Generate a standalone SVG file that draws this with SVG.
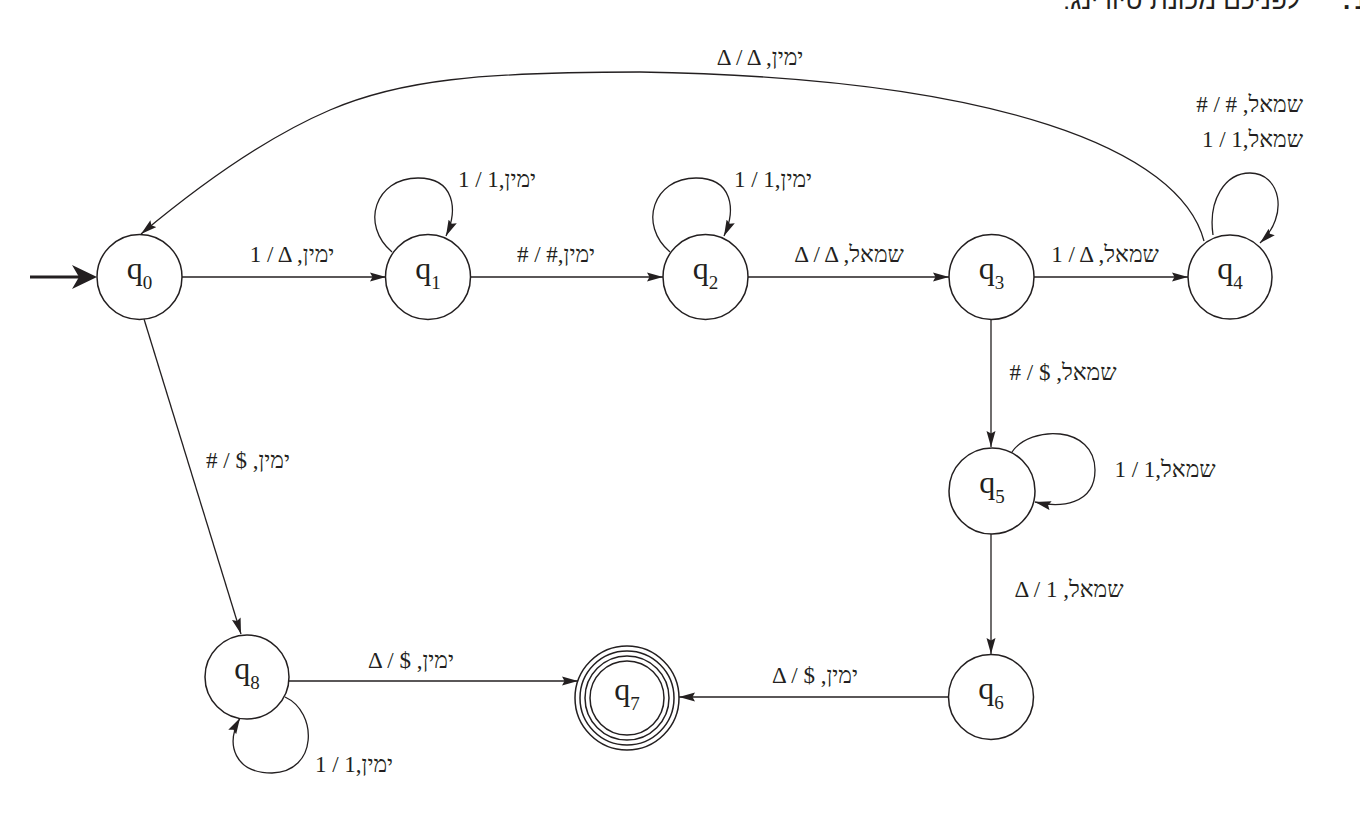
<svg xmlns="http://www.w3.org/2000/svg" width="1360" height="827" viewBox="0 0 1360 827">
<style>
.node{fill:#fff;stroke:#231f20;stroke-width:1.5}
.edge{fill:none;stroke:#231f20;stroke-width:1.3}
.lbl{font-family:"Liberation Serif","DejaVu Serif",serif;font-size:23px;fill:#231f20}
.nl{font-family:"Liberation Serif","DejaVu Serif",serif;font-size:32px;fill:#231f20}
.sub{font-size:19px}
.title{font-family:"Liberation Sans","DejaVu Sans",sans-serif;font-size:26px;fill:#231f20}
</style>
<defs>
<marker id="ah" markerUnits="userSpaceOnUse" markerWidth="18" markerHeight="12" refX="16" refY="5" orient="auto">
<path d="M0,0.5 L16,5 L0,9.5 L2.5,5 Z" fill="#231f20"/>
</marker>
</defs>
<rect width="1360" height="827" fill="#fff"/>
<g id="title">
<text class="title" x="1300" y="9" direction="rtl" unicode-bidi="embed" text-anchor="start">לפניכם מכונת טיורינג:</text>
<text class="title" x="1343" y="9" font-weight="bold">.</text>
<text class="title" x="1354" y="9" font-weight="bold">1</text>
</g>
<g id="connectors">
<line x1="30" y1="277" x2="80" y2="277" stroke="#231f20" stroke-width="3.2"/>
<path d="M97,277 L72,265 L79,277 L72,289 Z" fill="#231f20"/>
<line class="edge" x1="182" y1="277" x2="386" y2="277" marker-end="url(#ah)"/>
<line class="edge" x1="471" y1="277" x2="663" y2="277" marker-end="url(#ah)"/>
<line class="edge" x1="748" y1="277" x2="949" y2="277" marker-end="url(#ah)"/>
<line class="edge" x1="1034" y1="277" x2="1188" y2="277" marker-end="url(#ah)"/>
<path class="edge" d="M392,252 C360,225 375,178 418,178 C455,178 458,210 446,236" marker-end="url(#ah)"/>
<path class="edge" d="M670,252 C638,225 653,178 696,178 C733,178 736,210 724,236" marker-end="url(#ah)"/>
<path class="edge" d="M1213,235 C1208,200 1225,173 1250,173 C1280,173 1290,215 1260,243" marker-end="url(#ah)"/>
<path class="edge" d="M1204,241 C1180,150 1000,78 640,72 C480,72 400,80 330,110 C260,140 190,193 141,234" marker-end="url(#ah)"/>
<line class="edge" x1="991" y1="319" x2="991" y2="447" stroke-width="1.8" marker-end="url(#ah)"/>
<path class="edge" d="M1012,452 C1030,425 1095,425 1095,470 C1095,505 1060,508 1035,502" marker-end="url(#ah)"/>
<line class="edge" x1="991" y1="534" x2="991" y2="654" stroke-width="1.6" marker-end="url(#ah)"/>
<line class="edge" x1="949" y1="697" x2="679" y2="697" marker-end="url(#ah)"/>
<line class="edge" x1="144" y1="319" x2="241" y2="634" marker-end="url(#ah)"/>
<line class="edge" x1="289" y1="681" x2="578" y2="681" marker-end="url(#ah)"/>
<path class="edge" d="M285,697 C318,712 318,772 272,773 C235,773 225,745 240,718" marker-end="url(#ah)"/>
</g>
<g id="labels">
<text class="lbl" x="292" y="262" text-anchor="middle">1 / Δ ,ימין</text>
<text class="lbl" x="497" y="187" text-anchor="middle">1 / 1,ימין</text>
<text class="lbl" x="556" y="262" text-anchor="middle"># / #,ימין</text>
<text class="lbl" x="773" y="187" text-anchor="middle">1 / 1,ימין</text>
<text class="lbl" x="849" y="262" text-anchor="middle">Δ / Δ ,שמאל</text>
<text class="lbl" x="1105" y="262" text-anchor="middle">1 / Δ ,שמאל</text>
<text class="lbl" x="1303" y="112" text-anchor="end"># / # ,שמאל</text>
<text class="lbl" x="1303" y="147" text-anchor="end">1 / 1,שמאל</text>
<text class="lbl" x="760" y="65" text-anchor="middle">Δ / Δ ,ימין</text>
<text class="lbl" x="1063" y="380" text-anchor="middle"># / $ ,שמאל</text>
<text class="lbl" x="1165" y="477" text-anchor="middle">1 / 1,שמאל</text>
<text class="lbl" x="1069" y="597" text-anchor="middle">Δ / 1 ,שמאל</text>
<text class="lbl" x="815" y="683" text-anchor="middle">Δ / $ ,ימין</text>
<text class="lbl" x="411" y="668" text-anchor="middle">Δ / $ ,ימין</text>
<text class="lbl" x="354" y="772" text-anchor="middle">1 / 1,ימין</text>
<text class="lbl" x="248" y="468" text-anchor="middle"># / $ ,ימין</text>
</g>
<g id="q0"><circle class="node" cx="139.5" cy="277" r="42.5"/><text class="nl" x="139.5" y="279" text-anchor="middle">q<tspan class="sub" dy="10">0</tspan></text></g>
<g id="q1"><circle class="node" cx="428" cy="277" r="42.5"/><text class="nl" x="428" y="279" text-anchor="middle">q<tspan class="sub" dy="10">1</tspan></text></g>
<g id="q2"><circle class="node" cx="705.5" cy="277" r="42.5"/><text class="nl" x="705.5" y="279" text-anchor="middle">q<tspan class="sub" dy="10">2</tspan></text></g>
<g id="q3"><circle class="node" cx="991.5" cy="277" r="42.5"/><text class="nl" x="991.5" y="279" text-anchor="middle">q<tspan class="sub" dy="10">3</tspan></text></g>
<g id="q4"><circle class="node" cx="1230" cy="277" r="42"/><text class="nl" x="1230" y="279" text-anchor="middle">q<tspan class="sub" dy="10">4</tspan></text></g>
<g id="q5"><circle class="node" cx="992" cy="491" r="43"/><text class="nl" x="992" y="493" text-anchor="middle">q<tspan class="sub" dy="10">5</tspan></text></g>
<g id="q6"><circle class="node" cx="991" cy="697" r="42.5"/><text class="nl" x="991" y="699" text-anchor="middle">q<tspan class="sub" dy="10">6</tspan></text></g>
<g id="q7">
<circle class="node" cx="627" cy="698" r="52" stroke-width="1.2"/>
<circle class="node" cx="627" cy="698" r="47" stroke-width="1.2"/>
<circle class="node" cx="627" cy="698" r="42" stroke-width="1.2"/>
<circle class="node" cx="627" cy="698" r="37" stroke-width="1.2"/>
<text class="nl" x="627" y="700" text-anchor="middle">q<tspan class="sub" dy="10">7</tspan></text></g>
<g id="q8"><circle class="node" cx="247" cy="677" r="42"/><text class="nl" x="247" y="679" text-anchor="middle">q<tspan class="sub" dy="10">8</tspan></text></g>
</svg>
